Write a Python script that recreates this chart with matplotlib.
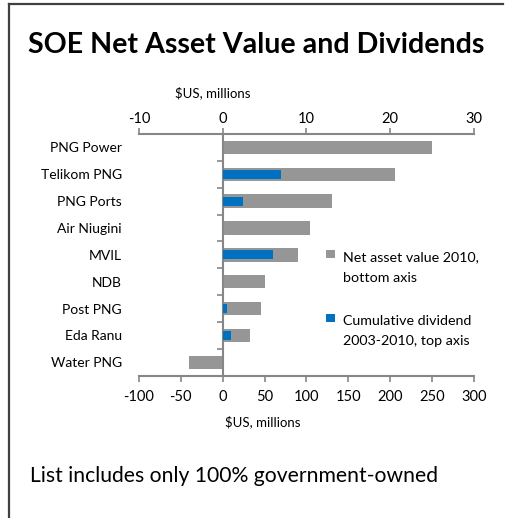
import numpy as np
import matplotlib.pyplot as plt
from matplotlib.lines import Line2D
from matplotlib.patches import Patch, Rectangle
from matplotlib.legend_handler import HandlerPatch

plt.rcParams['font.family'] = ['Lato', 'DejaVu Sans']
plt.rcParams['axes.unicode_minus'] = False

# ------------------------------------------------------------
# Data (US$ millions)
# ------------------------------------------------------------
companies = ["PNG Power", "Telikom PNG", "PNG Ports", "Air Niugini", "MVIL",
             "NDB", "Post PNG", "Eda Ranu", "Water PNG"]
net_assets_2010 = [250, 206, 131, 104, 90, 51, 46, 32, -40]
dividends_2003_2010 = [0, 6.9, 2.4, 0, 6.0, 0, 0.5, 1.0, 0]

grey = "#969696"
blue = "#0070C0"
axis_col = "#868686"
W, H = 506, 518


class TopSquare(HandlerPatch):
    # square aligned with the first line of a two-line label
    def create_artists(self, legend, orig_handle, xdescent, ydescent,
                       width, height, fontsize, trans):
        s = 0.6 * fontsize
        x = -xdescent + (width - s) / 2
        y = -ydescent + (height - s) / 2 + 0.92 * fontsize
        p = Rectangle((x, y), s, s, facecolor=orig_handle.get_facecolor(),
                      edgecolor="none", transform=trans)
        return [p]


fig = plt.figure(figsize=(W / 100, H / 100), dpi=100)
ax = fig.add_axes([139 / W, 1 - 375.7 / H, 335 / W, 241.7 / H])

ypos = np.arange(len(companies))
ax.barh(ypos, net_assets_2010, height=0.5, color=grey, zorder=2)
ax.set_xlim(-100, 300)
ax.set_xticks(np.arange(-100, 301, 50))
ax.set_ylim(len(companies) - 0.5, -0.5)
ax.set_yticks(ypos)
ax.set_yticklabels(companies)
ax.tick_params(axis="y", length=0, pad=12.5, labelsize=10)
ax.tick_params(axis="x", direction="out", length=4, width=1.2,
               color=axis_col, labelsize=10.5, pad=6)
for s in ["left", "right", "top"]:
    ax.spines[s].set_visible(False)
ax.spines["bottom"].set_color(axis_col)
ax.spines["bottom"].set_linewidth(1.5)
ax.text(0.37, -0.19, "$US, millions", transform=ax.transAxes,
        ha="center", va="center", fontsize=9.5)

# top axis for the dividends
ax2 = ax.twiny()
ax2.barh(ypos, dividends_2003_2010, height=0.33, color=blue, zorder=3)
ax2.set_xlim(-10, 30)
ax2.set_xticks(np.arange(-10, 31, 10))
ax2.tick_params(axis="x", direction="out", length=4, width=1.2,
                color=axis_col, labelsize=10.5, pad=2)
for s in ["left", "right", "bottom"]:
    ax2.spines[s].set_visible(False)
ax2.spines["top"].set_color(axis_col)
ax2.spines["top"].set_linewidth(1.5)
ax2.text(0.221, 1.17, "$US, millions", transform=ax.transAxes,
         ha="center", va="center", fontsize=9.5)

# vertical category axis at zero
zero_frac = (0 - ax.get_xlim()[0]) / (ax.get_xlim()[1] - ax.get_xlim()[0])
sec = ax2.secondary_yaxis(zero_frac)
sec.spines["left"].set_color(axis_col)
sec.spines["left"].set_linewidth(1.5)
sec.set_yticks([])
sec.set_yticks(np.arange(-0.5, len(companies), 1.0), minor=True)
sec.tick_params(which="minor", direction="out", length=4, width=1.2,
                color=axis_col, labelleft=False)

handles = [Patch(facecolor=grey), Patch(facecolor=blue)]
labels = ["Net asset value 2010,\nbottom axis",
          "Cumulative dividend\n2003-2010, top axis"]
leg = fig.legend(handles, labels, loc="upper left",
                 bbox_to_anchor=(325 / W, 1 - 251 / H),
                 frameon=False, fontsize=10.3, borderpad=0, borderaxespad=0,
                 handlelength=0.8, handletextpad=0.45, labelspacing=2.2,
                 handler_map={Patch: TopSquare()})
for t in leg.get_texts():
    t.set_linespacing(1.85)

fig.text(28 / W, 1 - 45 / H, "SOE Net Asset Value and Dividends",
         fontsize=20.6, fontweight="bold", va="center", ha="left")
fig.text(30 / W, 1 - 476 / H, "List includes only 100% government-owned",
         fontsize=15.2, va="center", ha="left")

# chart frame (top and left edges)
fig.add_artist(Line2D([8.5 / W, 8.5 / W], [0, 1 - 4 / H],
                      transform=fig.transFigure, color="#404040", lw=1.6))
fig.add_artist(Line2D([8.5 / W, 503 / W], [1 - 4 / H, 1 - 4 / H],
                      transform=fig.transFigure, color="#404040", lw=1.6))

fig.savefig("out.png", dpi=100)
